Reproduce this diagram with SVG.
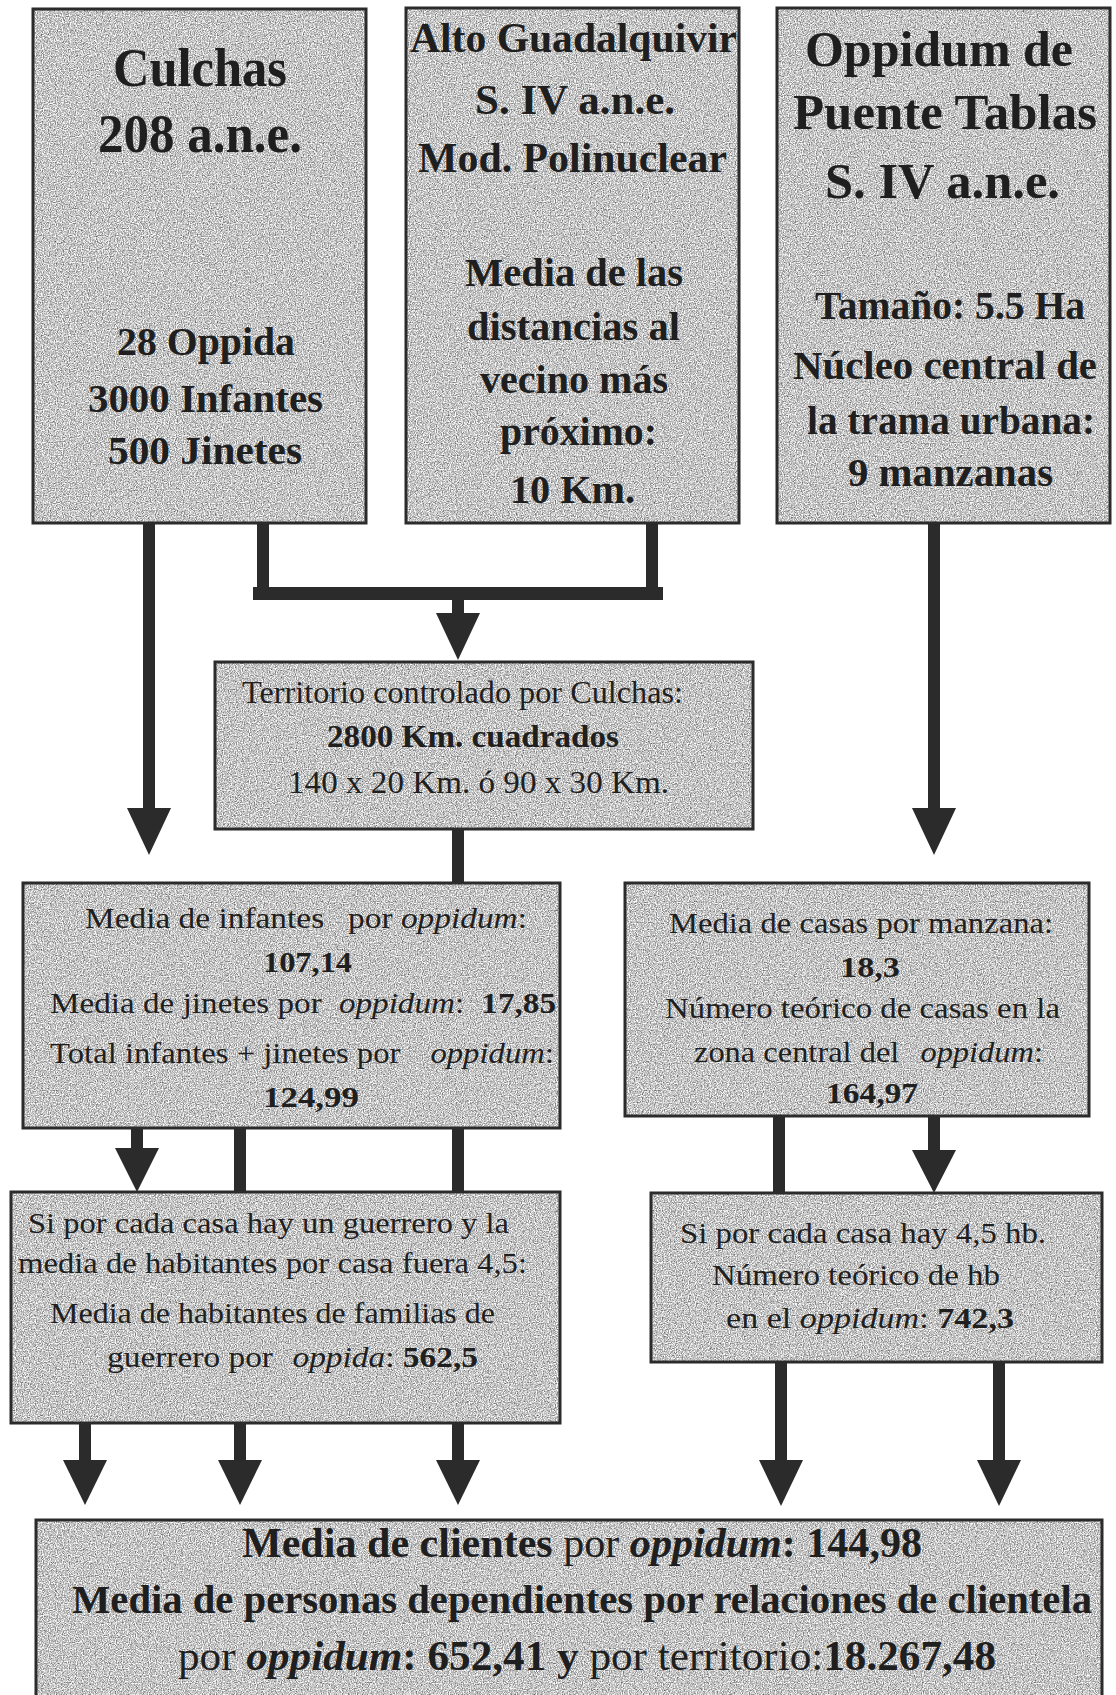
<svg xmlns="http://www.w3.org/2000/svg" width="1116" height="1695" viewBox="0 0 1116 1695">
<style>
  .fill { filter: url(#grain); fill: #aaa; }
  .frame { fill: none; stroke: #2b2b2b; stroke-width: 3; }
  .t { font-family: "Liberation Serif", "Times New Roman", serif; fill: #1f1f1f; }
  .b { font-weight: bold; }
  .i { font-style: italic; }
  .n { font-weight: normal; }
  .big { font-size: 54px; }
  .h42 { font-size: 42px; }
  .h50 { font-size: 50px; }
  .m40 { font-size: 40px; }
  .s32 { font-size: 32px; }
  .s30 { font-size: 30px; }
  .f42 { font-size: 42px; }
  .f39 { font-size: 39px; }
  .stem { stroke: #2b2b2b; stroke-width: 12; fill: none; }
  .head { fill: #2b2b2b; }
</style>
<defs>
  <filter id="grain" x="0" y="0" width="1" height="1" color-interpolation-filters="sRGB">
    <feTurbulence type="fractalNoise" baseFrequency="0.85" numOctaves="2" seed="4" result="t"/>
    <feColorMatrix in="t" type="matrix" values="1.1 0 0 0 0.22  1.1 0 0 0 0.22  1.1 0 0 0 0.22  0 0 0 0 1" result="g"/>
    <feComposite in="g" in2="SourceGraphic" operator="in"/>
  </filter>
</defs>
<rect width="1116" height="1695" fill="#ffffff"/>

<g id="connectors">
  <line class="stem" x1="149" y1="523" x2="149" y2="810"/>
  <polygon class="head" points="127,808 171,808 149,855"/>
  <line class="stem" x1="263" y1="523" x2="263" y2="594"/>
  <line class="stem" x1="652" y1="523" x2="652" y2="594"/>
  <rect class="head" x="253" y="587" width="410" height="13"/>
  <line class="stem" x1="458" y1="598" x2="458" y2="615"/>
  <polygon class="head" points="436,613 480,613 458,660"/>
  <line class="stem" x1="934" y1="523" x2="934" y2="810"/>
  <polygon class="head" points="912,808 956,808 934,855"/>
  <line class="stem" x1="458" y1="829" x2="458" y2="883"/>
  <line class="stem" x1="137" y1="1128" x2="137" y2="1150"/>
  <polygon class="head" points="115,1148 159,1148 137,1192"/>
  <line class="stem" x1="240" y1="1128" x2="240" y2="1192"/>
  <line class="stem" x1="458" y1="1128" x2="458" y2="1192"/>
  <line class="stem" x1="779" y1="1116" x2="779" y2="1193"/>
  <line class="stem" x1="934" y1="1116" x2="934" y2="1152"/>
  <polygon class="head" points="912,1150 956,1150 934,1193"/>
  <line class="stem" x1="85" y1="1423" x2="85" y2="1462"/>
  <polygon class="head" points="63,1460 107,1460 85,1505"/>
  <line class="stem" x1="240" y1="1423" x2="240" y2="1462"/>
  <polygon class="head" points="218,1460 262,1460 240,1505"/>
  <line class="stem" x1="458" y1="1423" x2="458" y2="1462"/>
  <polygon class="head" points="436,1460 480,1460 458,1505"/>
  <line class="stem" x1="781" y1="1362" x2="781" y2="1462"/>
  <polygon class="head" points="759,1460 803,1460 781,1506"/>
  <line class="stem" x1="999" y1="1362" x2="999" y2="1462"/>
  <polygon class="head" points="977,1460 1021,1460 999,1506"/>
</g>

<g id="culchas">
  <rect class="fill" x="33" y="9" width="333" height="514"/>
  <rect class="frame" x="33" y="9" width="333" height="514"/>
  <text class="t b big" x="113" y="86" textLength="174" lengthAdjust="spacingAndGlyphs">Culchas</text>
  <text class="t b big" x="98" y="152" textLength="204" lengthAdjust="spacingAndGlyphs">208 a.n.e.</text>
  <text class="t b m40" x="117" y="355" textLength="178" lengthAdjust="spacingAndGlyphs">28 Oppida</text>
  <text class="t b m40" x="88" y="412" textLength="235" lengthAdjust="spacingAndGlyphs">3000 Infantes</text>
  <text class="t b m40" x="108" y="464" textLength="194" lengthAdjust="spacingAndGlyphs">500 Jinetes</text>
</g>

<g id="alto-guadalquivir">
  <rect class="fill" x="406" y="8" width="333" height="515"/>
  <rect class="frame" x="406" y="8" width="333" height="515"/>
  <text class="t b h42" x="410" y="52" textLength="327" lengthAdjust="spacingAndGlyphs">Alto Guadalquivir</text>
  <text class="t b h42" x="475" y="114" textLength="200" lengthAdjust="spacingAndGlyphs">S. IV a.n.e.</text>
  <text class="t b h42" x="418" y="172" textLength="309" lengthAdjust="spacingAndGlyphs">Mod. Polinuclear</text>
  <text class="t b m40" x="465" y="286" textLength="218" lengthAdjust="spacingAndGlyphs">Media de las</text>
  <text class="t b m40" x="467" y="340" textLength="213" lengthAdjust="spacingAndGlyphs">distancias al</text>
  <text class="t b m40" x="480" y="393" textLength="188" lengthAdjust="spacingAndGlyphs">vecino más</text>
  <text class="t b m40" x="500" y="445" textLength="157" lengthAdjust="spacingAndGlyphs">próximo:</text>
  <text class="t b m40" x="510" y="503" textLength="125" lengthAdjust="spacingAndGlyphs">10 Km.</text>
</g>

<g id="puente-tablas">
  <rect class="fill" x="777" y="8" width="333" height="515"/>
  <rect class="frame" x="777" y="8" width="333" height="515"/>
  <text class="t b h50" x="805" y="66" textLength="268" lengthAdjust="spacingAndGlyphs">Oppidum de</text>
  <text class="t b h50" x="793" y="129" textLength="304" lengthAdjust="spacingAndGlyphs">Puente Tablas</text>
  <text class="t b h50" x="825" y="198" textLength="235" lengthAdjust="spacingAndGlyphs">S. IV a.n.e.</text>
  <text class="t b m40" x="815" y="319" textLength="270" lengthAdjust="spacingAndGlyphs">Tamaño: 5.5 Ha</text>
  <text class="t b m40" x="793" y="379" textLength="304" lengthAdjust="spacingAndGlyphs">Núcleo central de</text>
  <text class="t b m40" x="807" y="434" textLength="288" lengthAdjust="spacingAndGlyphs">la trama urbana:</text>
  <text class="t b m40" x="848" y="486" textLength="205" lengthAdjust="spacingAndGlyphs">9 manzanas</text>
</g>

<g id="territorio">
  <rect class="fill" x="215" y="662" width="538" height="167"/>
  <rect class="frame" x="215" y="662" width="538" height="167"/>
  <text class="t s32" x="242" y="703" textLength="441" lengthAdjust="spacingAndGlyphs">Territorio controlado por Culchas:</text>
  <text class="t b s32" x="327" y="747" textLength="292" lengthAdjust="spacingAndGlyphs">2800 Km. cuadrados</text>
  <text class="t s32" x="288" y="793" textLength="381" lengthAdjust="spacingAndGlyphs">140 x 20 Km. ó 90 x 30 Km.</text>
</g>

<g id="media-infantes">
  <rect class="fill" x="23" y="883" width="537" height="245"/>
  <rect class="frame" x="23" y="883" width="537" height="245"/>
  <text class="t s30" x="85" y="928" textLength="442" lengthAdjust="spacingAndGlyphs">Media de infantes <tspan dx="14">por </tspan><tspan class="i">oppidum</tspan>:</text>
  <text class="t b s30" x="263" y="972" textLength="89" lengthAdjust="spacingAndGlyphs">107,14</text>
  <text class="t s30" x="50" y="1013" textLength="506" lengthAdjust="spacingAndGlyphs">Media de jinetes por <tspan dx="8" class="i">oppidum</tspan>: <tspan dx="8" class="b">17,85</tspan></text>
  <text class="t s30" x="50" y="1063" textLength="504" lengthAdjust="spacingAndGlyphs">Total infantes + jinetes por <tspan dx="20" class="i">oppidum</tspan>:</text>
  <text class="t b s30" x="263" y="1107" textLength="96" lengthAdjust="spacingAndGlyphs">124,99</text>
</g>

<g id="media-casas">
  <rect class="fill" x="625" y="883" width="464" height="233"/>
  <rect class="frame" x="625" y="883" width="464" height="233"/>
  <text class="t s30" x="669" y="933" textLength="384" lengthAdjust="spacingAndGlyphs">Media de casas por manzana:</text>
  <text class="t b s30" x="840" y="977" textLength="60" lengthAdjust="spacingAndGlyphs">18,3</text>
  <text class="t s30" x="665" y="1018" textLength="395" lengthAdjust="spacingAndGlyphs">Número teórico de casas en la</text>
  <text class="t s30" x="694" y="1062" textLength="349" lengthAdjust="spacingAndGlyphs">zona central del <tspan dx="12" class="i">oppidum</tspan>:</text>
  <text class="t b s30" x="826" y="1103" textLength="92" lengthAdjust="spacingAndGlyphs">164,97</text>
</g>

<g id="familias-guerrero">
  <rect class="fill" x="11" y="1192" width="549" height="231"/>
  <rect class="frame" x="11" y="1192" width="549" height="231"/>
  <text class="t s30" x="28" y="1233" textLength="481" lengthAdjust="spacingAndGlyphs">Si por cada casa hay un guerrero y la</text>
  <text class="t s30" x="18" y="1273" textLength="509" lengthAdjust="spacingAndGlyphs">media de habitantes por casa fuera 4,5:</text>
  <text class="t s30" x="50" y="1323" textLength="445" lengthAdjust="spacingAndGlyphs">Media de habitantes de familias de</text>
  <text class="t s30" x="107" y="1367" textLength="371" lengthAdjust="spacingAndGlyphs">guerrero por <tspan dx="10" class="i">oppida</tspan>: <tspan class="b">562,5</tspan></text>
</g>

<g id="habitantes-oppidum">
  <rect class="fill" x="651" y="1193" width="451" height="169"/>
  <rect class="frame" x="651" y="1193" width="451" height="169"/>
  <text class="t s30" x="680" y="1243" textLength="366" lengthAdjust="spacingAndGlyphs">Si por cada casa hay 4,5 hb.</text>
  <text class="t s30" x="712" y="1285" textLength="288" lengthAdjust="spacingAndGlyphs">Número teórico de hb</text>
  <text class="t s30" x="726" y="1328" textLength="288" lengthAdjust="spacingAndGlyphs">en el <tspan class="i">oppidum</tspan>: <tspan class="b">742,3</tspan></text>
</g>

<g id="clientela">
  <rect class="fill" x="36" y="1520" width="1066" height="185"/>
  <rect class="frame" x="36" y="1520" width="1066" height="185"/>
  <text class="t b f42" x="242" y="1557" textLength="680" lengthAdjust="spacingAndGlyphs">Media de clientes <tspan class="n">por</tspan> <tspan class="i">oppidum</tspan>: 144,98</text>
  <text class="t b f39" x="72" y="1613" textLength="1020" lengthAdjust="spacingAndGlyphs">Media de personas dependientes por relaciones de clientela</text>
  <text class="t b f42" x="178" y="1670" textLength="818" lengthAdjust="spacingAndGlyphs"><tspan class="n">por</tspan> <tspan class="i">oppidum</tspan>: 652,41 y <tspan class="n">por territorio:</tspan>18.267,48</text>
</g>
</svg>
